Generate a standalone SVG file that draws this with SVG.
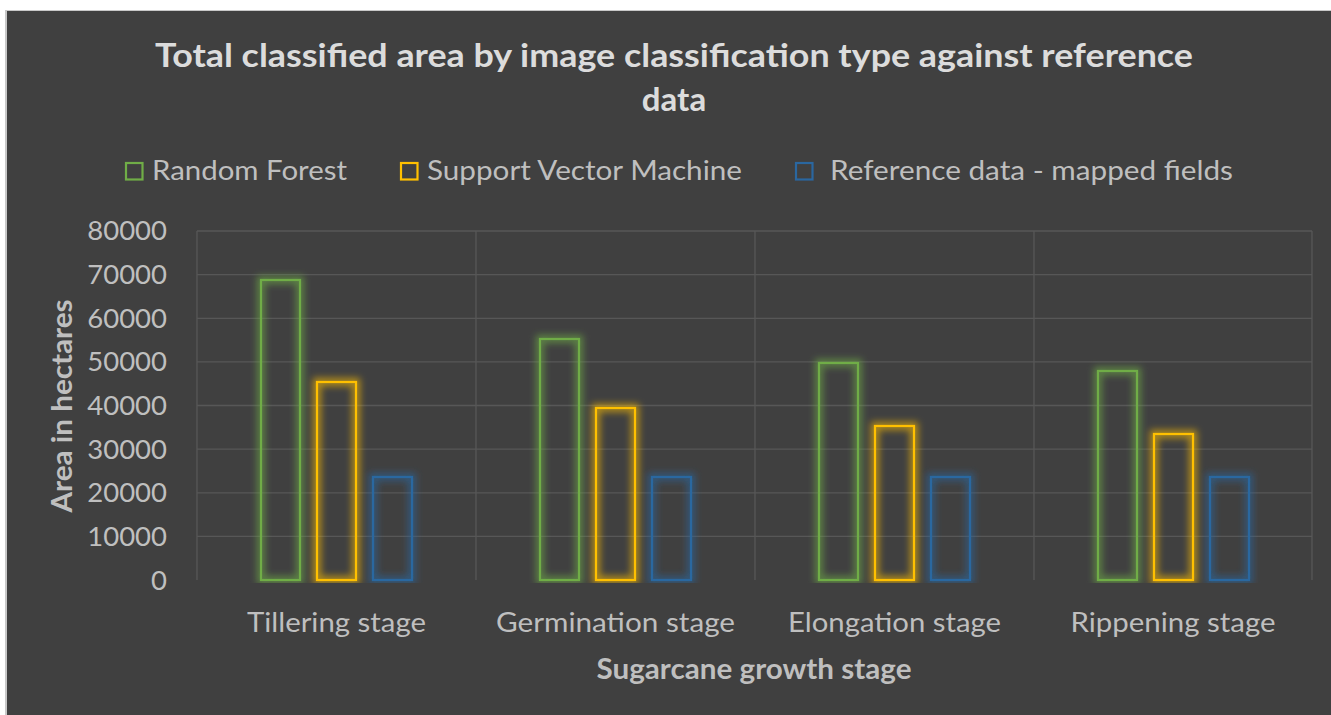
<svg xmlns="http://www.w3.org/2000/svg" width="1331" height="715" viewBox="0 0 1331 715">
  <style>
    .title { font-family: Lato, "Open Sans", "Liberation Sans", sans-serif; font-weight: bold; font-size: 33px; fill: #DCDCDC; text-anchor: middle; }
    .legend { font-family: Lato, "Open Sans", "Liberation Sans", sans-serif; font-size: 26px; fill: #BFBFBF; }
    .tick { font-family: Lato, "Open Sans", "Liberation Sans", sans-serif; font-size: 27.5px; fill: #BFBFBF; text-anchor: end; }
    .cat { font-family: Lato, "Open Sans", "Liberation Sans", sans-serif; font-size: 27px; fill: #BFBFBF; text-anchor: middle; }
    .axis-title { font-family: Lato, "Open Sans", "Liberation Sans", sans-serif; font-weight: bold; font-size: 29px; fill: #BFBFBF; text-anchor: middle; }
    .grid { stroke: #575757; stroke-width: 1.3; fill: none; }
    .bar { fill: none; stroke-width: 2.2; filter: url(#glow); }
    .rf { stroke: #70AD47; }
    .svm { stroke: #FFC000; }
    .ref { stroke: #2A67A0; }
    .key { fill: none; stroke-width: 2.2; }
  </style>
  <defs>
    <!-- soft outer/inner glow around the hollow bars -->
    <filter id="glow" x="-60%" y="-20%" width="220%" height="140%">
      <feMorphology in="SourceGraphic" operator="dilate" radius="3" result="wide"/>
      <feGaussianBlur in="wide" stdDeviation="3.5" result="soft"/>
      <feComponentTransfer in="soft" result="halo">
        <feFuncA type="linear" slope="0.6"/>
      </feComponentTransfer>
      <feMerge>
        <feMergeNode in="halo"/>
        <feMergeNode in="SourceGraphic"/>
      </feMerge>
    </filter>
    <clipPath id="plotClip">
      <rect x="197" y="200" width="1115" height="383"/>
    </clipPath>
  </defs>

  <!-- page and chart area -->
  <rect x="0" y="0" width="1331" height="715" fill="#FFFFFF"/>
  <rect x="5" y="10" width="1326" height="705" fill="#C8C8C8"/>
  <rect x="7" y="11" width="1324" height="704" fill="#404040"/>

  <!-- title -->
  <g id="title">
    <text class="title" x="674" y="67" textLength="1038" lengthAdjust="spacingAndGlyphs">Total classified area by image classification type against reference</text>
    <text class="title" x="674" y="111">data</text>
  </g>

  <!-- legend -->
  <g id="legend">
    <g id="legend-rf">
      <rect class="key rf" x="126" y="163" width="16.5" height="16.5"/>
      <text class="legend" x="152" y="180" textLength="195" lengthAdjust="spacingAndGlyphs">Random Forest</text>
    </g>
    <g id="legend-svm">
      <rect class="key svm" x="401" y="163" width="16.5" height="16.5"/>
      <text class="legend" x="427" y="180" textLength="315" lengthAdjust="spacingAndGlyphs">Support Vector Machine</text>
    </g>
    <g id="legend-ref">
      <rect class="key ref" x="796" y="163" width="16.5" height="16.5"/>
      <text class="legend" x="830" y="180" textLength="403" lengthAdjust="spacingAndGlyphs">Reference data - mapped fields</text>
    </g>
  </g>

  <!-- gridlines -->
  <g id="gridlines">
    <path class="grid" d="M197 231H1312M197 274.6H1312M197 318.3H1312M197 361.9H1312M197 405.5H1312M197 449.1H1312M197 492.8H1312M197 536.4H1312"/>
    <path class="grid" d="M197 231V580M476 231V580M755 231V580M1034 231V580M1312 231V580"/>
  </g>

  <!-- value axis -->
  <g id="value-axis">
    <text class="tick" x="167" y="240">80000</text>
    <text class="tick" x="167" y="284">70000</text>
    <text class="tick" x="167" y="327.5">60000</text>
    <text class="tick" x="167" y="371">50000</text>
    <text class="tick" x="167" y="415">40000</text>
    <text class="tick" x="167" y="458.5">30000</text>
    <text class="tick" x="167" y="502">20000</text>
    <text class="tick" x="167" y="546">10000</text>
    <text class="tick" x="167" y="589.5">0</text>
    <text class="axis-title" transform="translate(72 406) rotate(-90)" textLength="213" lengthAdjust="spacingAndGlyphs">Area in hectares</text>
  </g>

  <!-- bars -->
  <g id="bars" clip-path="url(#plotClip)">
    <g id="tillering">
      <rect class="bar rf" x="261" y="280" width="39" height="300"/>
      <rect class="bar svm" x="317" y="382" width="39" height="198"/>
      <rect class="bar ref" x="373" y="477" width="39" height="103"/>
    </g>
    <g id="germination">
      <rect class="bar rf" x="540" y="339" width="39" height="241"/>
      <rect class="bar svm" x="596" y="408" width="39" height="172"/>
      <rect class="bar ref" x="652" y="477" width="39" height="103"/>
    </g>
    <g id="elongation">
      <rect class="bar rf" x="819" y="363" width="39" height="217"/>
      <rect class="bar svm" x="875" y="426" width="39" height="154"/>
      <rect class="bar ref" x="931" y="477" width="39" height="103"/>
    </g>
    <g id="rippening">
      <rect class="bar rf" x="1098" y="371" width="39" height="209"/>
      <rect class="bar svm" x="1154" y="434" width="39" height="146"/>
      <rect class="bar ref" x="1210" y="477" width="39" height="103"/>
    </g>
  </g>

  <!-- category axis -->
  <g id="category-axis">
    <text class="cat" x="336.5" y="632" textLength="179" lengthAdjust="spacingAndGlyphs">Tillering stage</text>
    <text class="cat" x="615.5" y="632" textLength="239" lengthAdjust="spacingAndGlyphs">Germination stage</text>
    <text class="cat" x="894.5" y="632" textLength="213" lengthAdjust="spacingAndGlyphs">Elongation stage</text>
    <text class="cat" x="1173" y="632" textLength="205" lengthAdjust="spacingAndGlyphs">Rippening stage</text>
    <text class="axis-title" x="754" y="679" textLength="315" lengthAdjust="spacingAndGlyphs">Sugarcane growth stage</text>
  </g>
</svg>
